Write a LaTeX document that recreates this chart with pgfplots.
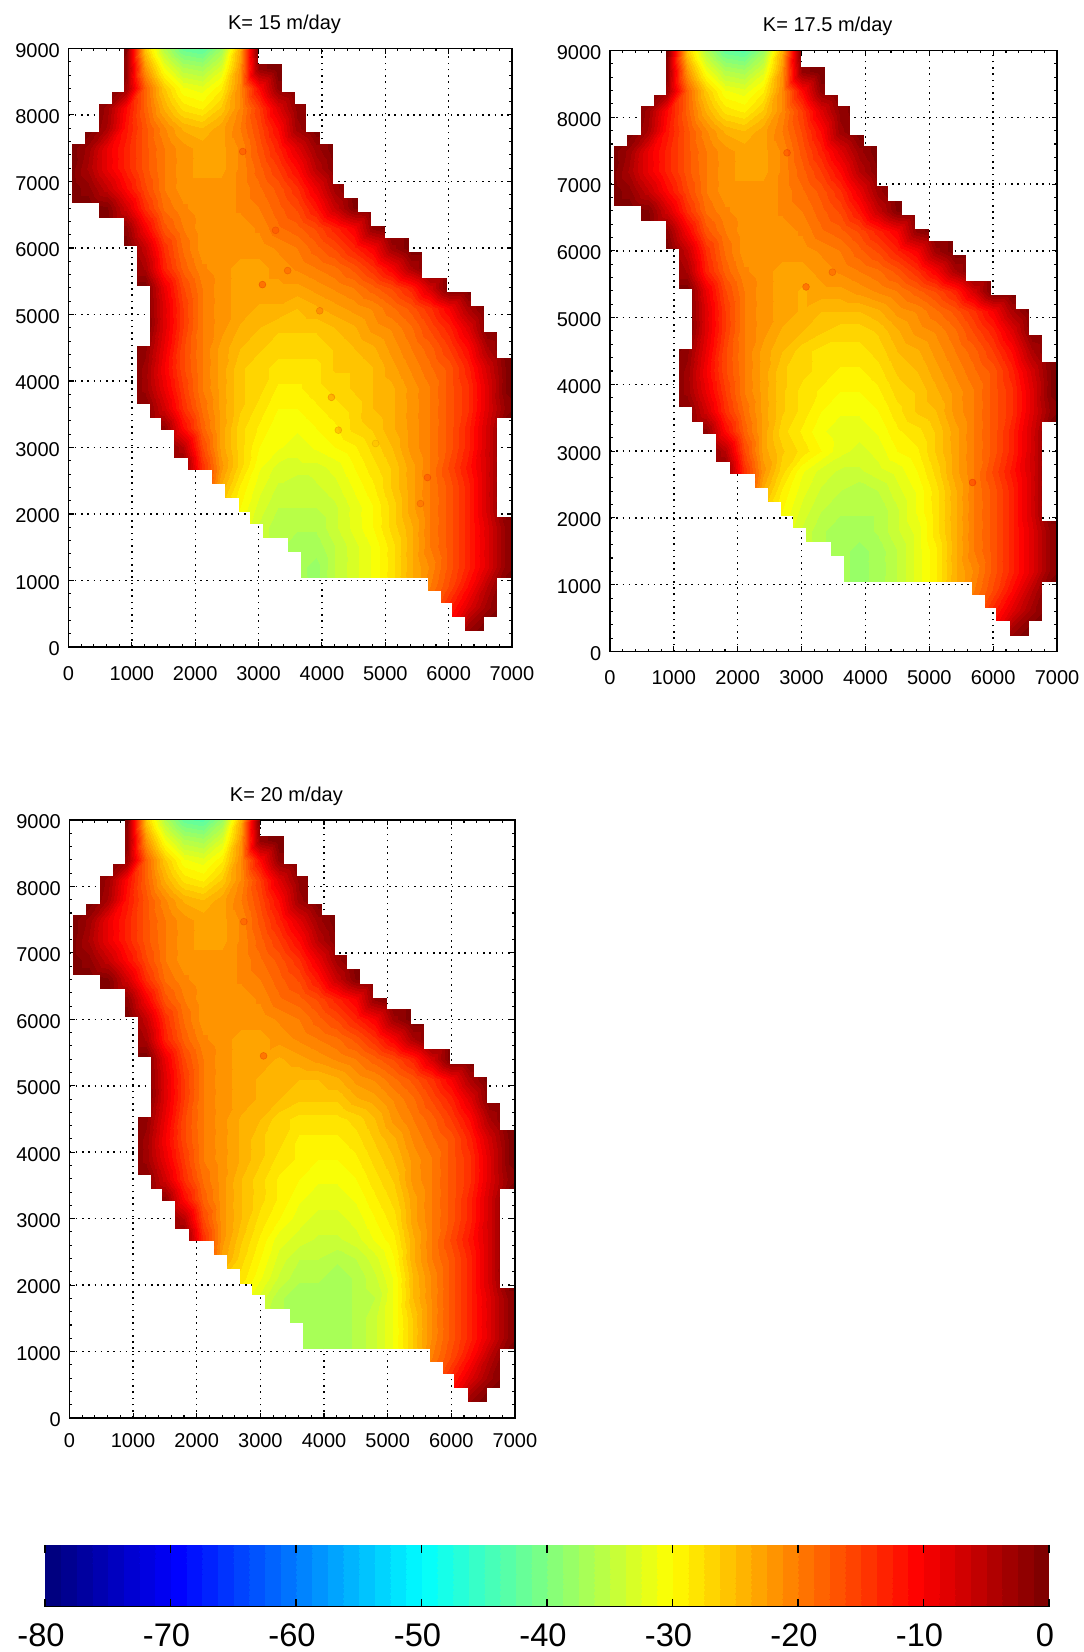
\documentclass[border=0pt]{standalone}
\usepackage{fontspec}
\setmainfont{Liberation Sans}
\usepackage{pgfplots}
\usepackage{pgfplotstable}
\pgfplotsset{compat=1.18}
% rows y=9000,8700,...; columns x=0,300,...,7200
\def\rowsTop{%
0,0,0,-1,-26,-36,-42,-43,-38,-24,0,0,0,0,0,0,0,0,0,0,0,0,0,0,0,%
0,0,0,-2,-22,-31,-36,-37,-33,-22,-2,0,0,0,0,0,0,0,0,0,0,0,0,0,0,%
0,0,0,-3,-18,-26,-31,-32,-29,-21,-11,-2,0,0,0,0,0,0,0,0,0,0,0,0,0,%
0,0,-3,-11,-18,-24,-28,-29,-26,-21,-15,-8,-2,0,0,0,0,0,0,0,0,0,0,0,0,%
0,0,-4,-12,-17,-21,-24,-25,-23,-20,-16,-11,-3,0,0,0,0,0,0,0,0,0,0,0,0,%
0,-3,-9,-13,-17,-20,-22,-23,-23,-21,-17,-13,-8,-3,0,0,0,0,0,0,0,0,0,0,0,%
0,-4,-9,-13,-17,-20,-22,-23,-23,-21,-18,-15,-11,-5,-1,0,0,0,0,0,0,0,0,0,0,%
0,-2,-6,-11,-16,-20,-22,-22,-22,-21,-19,-17,-14,-9,-3,0,0,0,0,0,0,0,0,0,0,%
0,0,-1,-7,-14,-19,-21,-22,-22,-21,-20,-18,-16,-12,-6,-1,0,0,0,0,0,0,0,0,0,%
0,0,0,-2,-10,-17,-20,-22,-22,-22,-21,-19,-18,-16,-13,-10,-2,0,0,0,0,0,0,0,0,%
0,0,0,0,-6,-14,-19,-22,-22,-22,-22,-21,-20,-18,-16,-13,-10,-3,0,0,0,0,0,0,0,%
0,0,0,0,-4,-13,-18,-21,-22,-23,-23,-22,-21,-20,-19,-17,-14,-10,-4,0,0,0,0,0,0,%
}
\def\rowsBot{%
0,0,0,0,0,0,0,0,0,0,0,0,0,0,0,0,0,0,-22,-18,-13,-8,-3,0,0,%
0,0,0,0,0,0,0,0,0,0,0,0,0,0,0,0,0,0,0,-18,-10,-3,0,0,0,%
0,0,0,0,0,0,0,0,0,0,0,0,0,0,0,0,0,0,0,0,0,0,0,0,0%
}
\def\midA{%
0,0,0,0,0,-9,-16,-20,-22,-23,-23,-23,-23,-22,-21,-20,-18,-16,-13,-7,0,0,0,0,0,%
0,0,0,0,0,-8,-15,-20,-22,-23,-24,-24,-25,-24,-23,-22,-21,-19,-17,-14,-10,-4,0,0,0,%
0,0,0,0,0,-8,-15,-20,-22,-24,-25,-26,-26,-26,-25,-24,-22,-21,-19,-16,-13,-8,-1,0,0,%
0,0,0,0,-2,-9,-16,-20,-23,-25,-26,-27,-27,-27,-26,-25,-24,-22,-20,-18,-15,-11,-4,0,0,%
0,0,0,0,-3,-10,-16,-20,-23,-26,-27,-28,-28,-28,-26,-26,-25,-23,-21,-19,-17,-13,-7,-1,0,%
0,0,0,0,-3,-9,-15,-20,-23,-26,-27,-29,-29,-28,-27,-26,-25,-24,-22,-20,-17,-14,-8,-1,0,%
0,0,0,0,-1,-7,-14,-19,-23,-26,-28,-30,-30,-29,-28,-27,-25,-24,-22,-20,-17,-14,-8,-2,0,%
0,0,0,0,0,-2,-11,-18,-23,-27,-29,-31,-31,-30,-29,-27,-26,-24,-22,-20,-17,-13,-7,0,0,%
0,0,0,0,0,0,-5,-16,-23,-27,-30,-31,-32,-31,-30,-29,-27,-25,-22,-20,-17,-13,-7,0,0,%
0,0,0,0,0,0,-1,-14,-22,-27,-31,-33,-33,-33,-32,-30,-28,-26,-23,-20,-16,-12,-7,0,0,%
0,0,0,0,0,0,0,-14,-24,-29,-32,-34,-35,-34,-33,-31,-29,-26,-23,-20,-17,-13,-7,0,0,%
0,0,0,0,0,0,0,-24,-26,-30,-33,-35,-35,-35,-34,-32,-30,-27,-23,-20,-17,-13,-7,0,0,%
0,0,0,0,0,0,0,0,-28,-31,-34,-36,-36,-36,-34,-32,-30,-27,-24,-20,-17,-13,-8,-2,0,%
0,0,0,0,0,0,0,0,0,0,-34,-36,-37,-37,-35,-33,-31,-28,-24,-20,-17,-13,-8,-2,0,%
0,0,0,0,0,0,0,0,0,0,0,-36,-37,-38,-35,-33,-31,-28,-24,-21,-17,-13,-8,-2,0,%
0,0,0,0,0,0,0,0,0,0,0,0,-37,-38,-35,-33,-31,-28,-24,-20,-16,-11,-5,0,0,%
}
\def\midB{%
0,0,0,0,0,-9,-16,-20,-22,-23,-24,-23,-23,-22,-21,-20,-18,-16,-13,-7,0,0,0,0,0,%
0,0,0,0,0,-8,-15,-20,-22,-23,-24,-25,-25,-25,-24,-22,-21,-19,-17,-14,-10,-4,0,0,0,%
0,0,0,0,0,-8,-15,-20,-22,-24,-25,-26,-27,-27,-26,-24,-22,-21,-19,-16,-13,-8,-1,0,0,%
0,0,0,0,-2,-9,-16,-20,-23,-25,-27,-28,-28,-28,-27,-25,-24,-22,-20,-18,-15,-11,-4,0,0,%
0,0,0,0,-3,-10,-16,-20,-23,-26,-27,-28,-29,-29,-28,-26,-25,-23,-21,-19,-17,-13,-7,-1,0,%
0,0,0,0,-3,-9,-15,-20,-23,-26,-28,-29,-30,-30,-29,-27,-26,-24,-22,-20,-17,-14,-8,-1,0,%
0,0,0,0,-1,-7,-14,-19,-23,-26,-28,-30,-31,-31,-30,-28,-26,-25,-22,-20,-17,-14,-8,-2,0,%
0,0,0,0,0,-2,-11,-18,-23,-27,-29,-31,-32,-32,-31,-29,-28,-26,-23,-20,-17,-13,-7,0,0,%
0,0,0,0,0,0,-5,-16,-23,-26,-28,-30,-32,-33,-32,-30,-29,-26,-23,-20,-17,-13,-7,0,0,%
0,0,0,0,0,0,-1,-14,-22,-27,-31,-33,-34,-34,-33,-32,-30,-27,-23,-20,-16,-12,-7,0,0,%
0,0,0,0,0,0,0,-14,-24,-29,-32,-34,-35,-36,-35,-33,-31,-28,-24,-20,-17,-13,-7,0,0,%
0,0,0,0,0,0,0,-24,-26,-30,-33,-35,-36,-36,-36,-34,-31,-28,-24,-20,-17,-13,-7,0,0,%
0,0,0,0,0,0,0,0,-28,-31,-34,-36,-37,-37,-36,-34,-32,-28,-24,-20,-17,-13,-8,-2,0,%
0,0,0,0,0,0,0,0,0,0,-34,-36,-37,-38,-37,-35,-32,-29,-24,-20,-17,-13,-8,-2,0,%
0,0,0,0,0,0,0,0,0,0,0,-36,-37,-38,-37,-35,-32,-29,-24,-21,-17,-13,-8,-2,0,%
0,0,0,0,0,0,0,0,0,0,0,0,-37,-38,-37,-35,-32,-29,-24,-20,-16,-11,-5,0,0,%
}
\def\midC{%
0,0,0,0,0,-9,-16,-20,-22,-23,-23,-24,-23,-22,-21,-20,-18,-16,-13,-7,0,0,0,0,0,%
0,0,0,0,0,-8,-15,-20,-22,-23,-24,-25,-25,-25,-24,-22,-21,-19,-17,-14,-10,-4,0,0,0,%
0,0,0,0,0,-8,-15,-20,-22,-23,-24,-25,-26,-26,-26,-24,-23,-21,-19,-16,-13,-8,-1,0,0,%
0,0,0,0,-2,-9,-16,-20,-22,-24,-25,-27,-28,-28,-28,-27,-25,-22,-20,-18,-15,-11,-4,0,0,%
0,0,0,0,-3,-10,-16,-20,-22,-24,-26,-27,-29,-29,-29,-28,-26,-24,-21,-19,-17,-13,-7,-1,0,%
0,0,0,0,-3,-9,-15,-20,-22,-24,-26,-28,-29,-30,-30,-29,-27,-25,-22,-20,-17,-14,-8,-1,0,%
0,0,0,0,-1,-7,-14,-19,-22,-25,-27,-29,-30,-31,-31,-30,-28,-26,-22,-20,-17,-14,-8,-2,0,%
0,0,0,0,0,-2,-11,-18,-22,-25,-27,-29,-31,-32,-32,-31,-29,-27,-23,-20,-17,-13,-7,0,0,%
0,0,0,0,0,0,-5,-16,-22,-25,-28,-30,-32,-33,-33,-32,-30,-28,-23,-20,-17,-13,-7,0,0,%
0,0,0,0,0,0,-1,-14,-22,-26,-29,-32,-33,-34,-34,-33,-31,-29,-24,-20,-16,-12,-7,0,0,%
0,0,0,0,0,0,0,-14,-23,-27,-30,-33,-35,-35,-36,-35,-33,-30,-24,-20,-17,-13,-7,0,0,%
0,0,0,0,0,0,0,-24,-26,-28,-31,-34,-36,-36,-37,-36,-34,-31,-25,-21,-17,-13,-7,0,0,%
0,0,0,0,0,0,0,0,-28,-30,-33,-36,-37,-37,-37,-36,-35,-31,-25,-21,-17,-13,-8,-2,0,%
0,0,0,0,0,0,0,0,0,0,-34,-36,-37,-37,-37,-36,-34,-31,-26,-21,-17,-13,-8,-2,0,%
0,0,0,0,0,0,0,0,0,0,0,-36,-37,-37,-37,-36,-34,-31,-26,-21,-17,-13,-8,-2,0,%
0,0,0,0,0,0,0,0,0,0,0,0,-37,-37,-37,-36,-34,-31,-26,-20,-16,-11,-5,0,0,%
}
\edef\listA{\rowsTop\midA\rowsBot}
\edef\listB{\rowsTop\midB\rowsBot}
\edef\listC{\rowsTop\midC\rowsBot}
\newcount\cx \newcount\cy
\def\addv#1,{\ifx\relax#1\else
  \edef\out{\unexpanded\expandafter{\out}\the\numexpr\cx*300\relax\space\the\numexpr9000-\cy*300\relax\space#1\noexpand\\}%
  \advance\cx by 1 \ifnum\cx=25 \cx=0 \advance\cy by 1 \fi
  \expandafter\addv\fi}
\newcommand\mktable[2]{\cx=0 \cy=0 \def\out{x y v\\}\expandafter\addv#1,\relax,%
  \edef\tmp{\noexpand\pgfplotstableread[row sep=\noexpand\\]{\unexpanded\expandafter{\out}}\noexpand#2}\tmp}
\mktable{\listA}{\fieldA}
\mktable{\listB}{\fieldB}
\mktable{\listC}{\fieldC}
\def\region{(axis cs:871,9000) -- (871,8344) -- (681,8344) -- (681,8167) -- (474,8167) -- (474,7744) -- (261,7744) -- (261,7568) -- (54,7568) -- (54,6680) -- (474,6680) -- (474,6458) -- (871,6458) -- (871,6039) -- (1073,6039) -- (1073,5434) -- (1280,5434) -- (1280,4536) -- (1073,4536) -- (1073,3663) -- (1280,3663) -- (1280,3447) -- (1454,3447) -- (1454,3271) -- (1661,3271) -- (1661,2849) -- (1879,2849) -- (1879,2668) -- (2260,2668) -- (2260,2457) -- (2467,2457) -- (2467,2246) -- (2680,2246) -- (2680,2030) -- (2860,2030) -- (2860,1854) -- (3066,1854) -- (3066,1643) -- (3459,1643) -- (3459,1437) -- (3660,1437) -- (3660,1050) -- (5665,1050) -- (5665,849) -- (5871,849) -- (5871,663) -- (6046,663) -- (6046,457) -- (6253,457) -- (6253,246) -- (6552,246) -- (6552,457) -- (6759,457) -- (6759,1050) -- (6972,1050) -- (6972,1955) -- (6759,1955) -- (6759,3447) -- (6972,3447) -- (6972,4342) -- (6759,4342) -- (6759,4740) -- (6552,4740) -- (6552,5130) -- (6345,5130) -- (6345,5335) -- (5964,5335) -- (5964,5550) -- (5566,5550) -- (5566,5940) -- (5365,5940) -- (5365,6155) -- (4984,6155) -- (4984,6330) -- (4766,6330) -- (4766,6540) -- (4559,6540) -- (4559,6755) -- (4346,6755) -- (4346,6970) -- (4167,6970) -- (4167,7568) -- (3965,7568) -- (3965,7744) -- (3747,7744) -- (3747,8167) -- (3568,8167) -- (3568,8344) -- (3360,8344) -- (3360,8763) -- (2985,8763) -- (2985,9000) -- cycle}
\pgfplotsset{
  panel/.style={
    scale only axis, anchor=south west,
    xmin=0,xmax=7000,ymin=0,ymax=9000,
    xtick={0,1000,...,7000}, ytick={0,1000,...,9000},
    minor tick num=4, tick align=inside, xtick pos=both, ytick pos=both,
    major tick length=4pt, minor tick length=2.2pt,
    tick style={black, line width=0.8pt},
    scaled ticks=false,
    /pgf/number format/assume math mode=true,
    /pgf/number format/set thousands separator={},
    tick label style={font=\fontsize{15}{15}\selectfont},
    yticklabel style={xshift=-3pt, yshift=-1.5pt},
    grid=major,
    major grid style={black, line width=1.1pt, dash pattern=on 1.2pt off 3.5pt},
    axis line style={black, line width=1pt},
    title style={font=\fontsize{15}{15}\selectfont, at={(0.487,1)}, anchor=south, yshift=1.5pt},
    colormap/jet,
    colormap={jetn}{samples of colormap=(64 of jet)},
    colormap access=piecewise constant,
    point meta min=-80, point meta max=0,
  },
  field/.style={surf, shader=interp, mesh/cols=25, point meta=explicit},
  spots/.style={scatter, only marks, mark=*, mark size=2.6pt, scatter src=explicit, mark options={opacity=0.3}},
}
\newcommand\fieldplot[1]{\addplot[field] table[x=x, y=y, meta=v] {#1};}
\begin{document}
\begin{tikzpicture}
\path[use as bounding box] (0,0) rectangle (813pt,1239pt);
\begin{axis}[panel, at={(51.4pt,753.75pt)}, width=332.6pt, height=448.9pt, title={K= 15 m/day}, xticklabel style={yshift=-11pt}]
\begin{scope}
\clip \region;
\fieldplot{\fieldA}
\addplot[spots] table[x=x,y=y,meta=v] {
x y v
2750 7450 -13
3268 6266 -15
3459 5660 -14
3061 5449 -11
3965 5055 -16
4150 3754 -16
4259 3261 -18
4847 3060 -23
5665 2548 -13
5555 2156 -16
};
\end{scope}
\end{axis}
\begin{axis}[panel, at={(457.5pt,750.4pt)}, width=335.3pt, height=450.7pt, title={K= 17.5 m/day}, xticklabel style={yshift=-11pt}]
\begin{scope}
\clip \region;
\fieldplot{\fieldB}
\addplot[spots] table[x=x,y=y,meta=v] {
x y v
2772 7468 -13
3069 5460 -12
3482 5680 -15
5676 2530 -11
};
\end{scope}
\end{axis}
\begin{axis}[panel, at={(52.1pt,175.5pt)}, width=334.1pt, height=448.5pt, title={K= 20 m/day}, xticklabel style={yshift=-8pt}]
\begin{scope}
\clip \region;
\fieldplot{\fieldC}
\addplot[spots] table[x=x,y=y,meta=v] {
x y v
2740 7470 -15
3050 5450 -12
};
\end{scope}
\end{axis}
\begin{axis}[scale only axis, anchor=south west, at={(33.75pt,33.75pt)}, width=753pt, height=46.5pt,
  xmin=-80,xmax=0,ymin=0,ymax=1, ytick=\empty, xtick={-80,-70,...,0},
  xticklabels={-80,-70,-60,-50,-40,-30,-20,-10,0},
  axis on top, tick align=inside, xtick pos=both, major tick length=6pt,
  tick style={black, line width=1pt},
  xticklabel style={font=\fontsize{24.5}{25}\selectfont, yshift=-9pt, xshift=-3pt},
  axis line style={draw=none},
  colormap/jet,
  colormap={jetn}{samples of colormap=(64 of jet)},
  colormap access=piecewise constant,
  point meta min=-80, point meta max=0]
\addplot[surf, shader=interp, mesh/cols=2, point meta=x] coordinates {(-80,0) (0,0) (-80,1) (0,1)};
\draw[black, line width=1.3pt] (rel axis cs:0,0) -- (rel axis cs:1,0);
\end{axis}
\end{tikzpicture}
\end{document}
